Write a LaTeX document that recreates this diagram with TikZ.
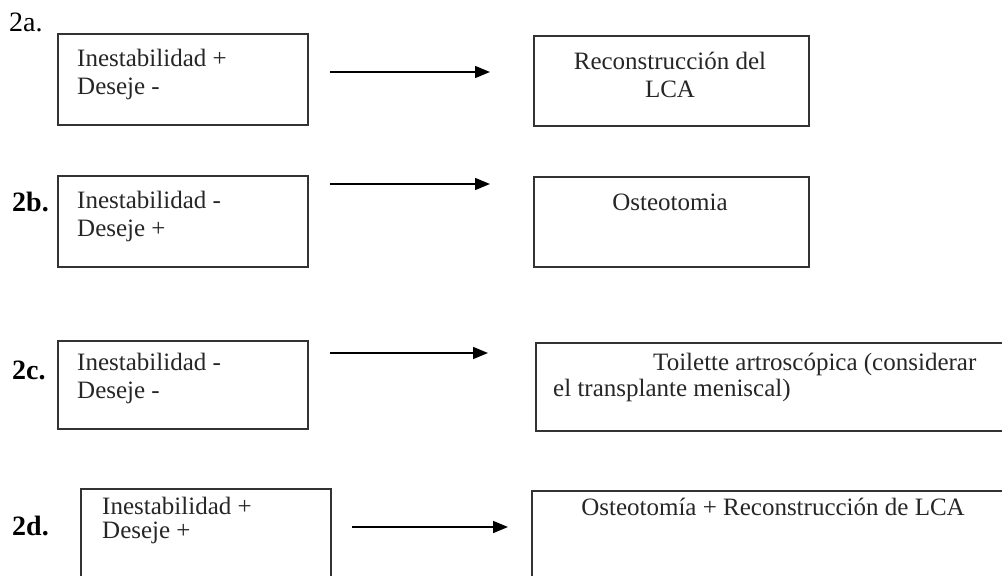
\documentclass[tikz,border=0pt]{standalone}
\usepackage{fontspec}
\setmainfont{Liberation Serif}
\usetikzlibrary{arrows.meta, positioning}

\begin{document}
\begin{tikzpicture}[x=1pt, y=-1pt,
  box/.style={draw=black!80, line width=1.6pt, anchor=north west, inner sep=0pt},
  txt/.style={font=\fontsize{25}{28}\selectfont, inner sep=0pt, text=black!85},
  tag/.style={font=\fontsize{28}{30}\selectfont, anchor=west, inner sep=0pt},
  arr/.style={-{Triangle[length=15pt, width=12pt]}, line width=1.6pt}]
  \useasboundingbox (0,0) rectangle (1002,576);
  \clip (0,0) rectangle (1002,576);

  % 2a
  \node[tag] (l2a) at (9,22) {2a.};
  \node[box, minimum width=250, minimum height=91] (in2a) at (57,33) {};
  \node[txt, anchor=west, align=left] (t2a) at (77,74) {Inestabilidad +\\Deseje -};
  \coordinate (s2a) at (330,72);
  \coordinate (e2a) at (490,72);
  \draw[arr] (s2a) -- (e2a);
  \node[box, minimum width=275, minimum height=90] (out2a) at (533,35) {};
  \node[txt, align=center] (r2a) at (670,75) {Reconstrucción del\\LCA};

  % 2b
  \node[tag, font=\fontsize{28}{30}\selectfont\bfseries] (l2b) at (12,202) {2b.};
  \node[box, minimum width=250, minimum height=91] (in2b) at (57,175) {};
  \node[txt, anchor=west, align=left] (t2b) at (77,216) {Inestabilidad -\\Deseje +};
  \coordinate (s2b) at (330,184);
  \coordinate (e2b) at (490,184);
  \draw[arr] (s2b) -- (e2b);
  \node[box, minimum width=275, minimum height=90] (out2b) at (533,176) {};
  \node[txt] (r2b) at (670,202) {Osteotomia};

  % 2c
  \node[tag, font=\fontsize{28}{30}\selectfont\bfseries] (l2c) at (12,370) {2c.};
  \node[box, minimum width=250, minimum height=88] (in2c) at (57,340) {};
  \node[txt, anchor=west, align=left] (t2c) at (77,378) {Inestabilidad -\\Deseje -};
  \coordinate (s2c) at (330,353);
  \coordinate (e2c) at (488,353);
  \draw[arr] (s2c) -- (e2c);
  \node[box, minimum width=500, minimum height=88] (out2c) at (535,342) {};
  \node[txt, font=\fontsize{25}{26}\selectfont, anchor=west, align=left] (r2c) at (553,377)
    {\hspace*{100pt}Toilette artroscópica (considerar\\el transplante meniscal)};

  % 2d
  \node[tag, font=\fontsize{28}{30}\selectfont\bfseries] (l2d) at (12,526) {2d.};
  \node[box, minimum width=250, minimum height=110] (in2d) at (80,488) {};
  \node[txt, font=\fontsize{25}{24}\selectfont, anchor=west, align=left] (t2d) at (102,520) {Inestabilidad +\\Deseje +};
  \coordinate (s2d) at (352,527);
  \coordinate (e2d) at (508,527);
  \draw[arr] (s2d) -- (e2d);
  \node[box, minimum width=500, minimum height=110] (out2d) at (531,490) {};
  \node[txt] (r2d) at (773,507) {Osteotomía + Reconstrucción de LCA};
\end{tikzpicture}
\end{document}
